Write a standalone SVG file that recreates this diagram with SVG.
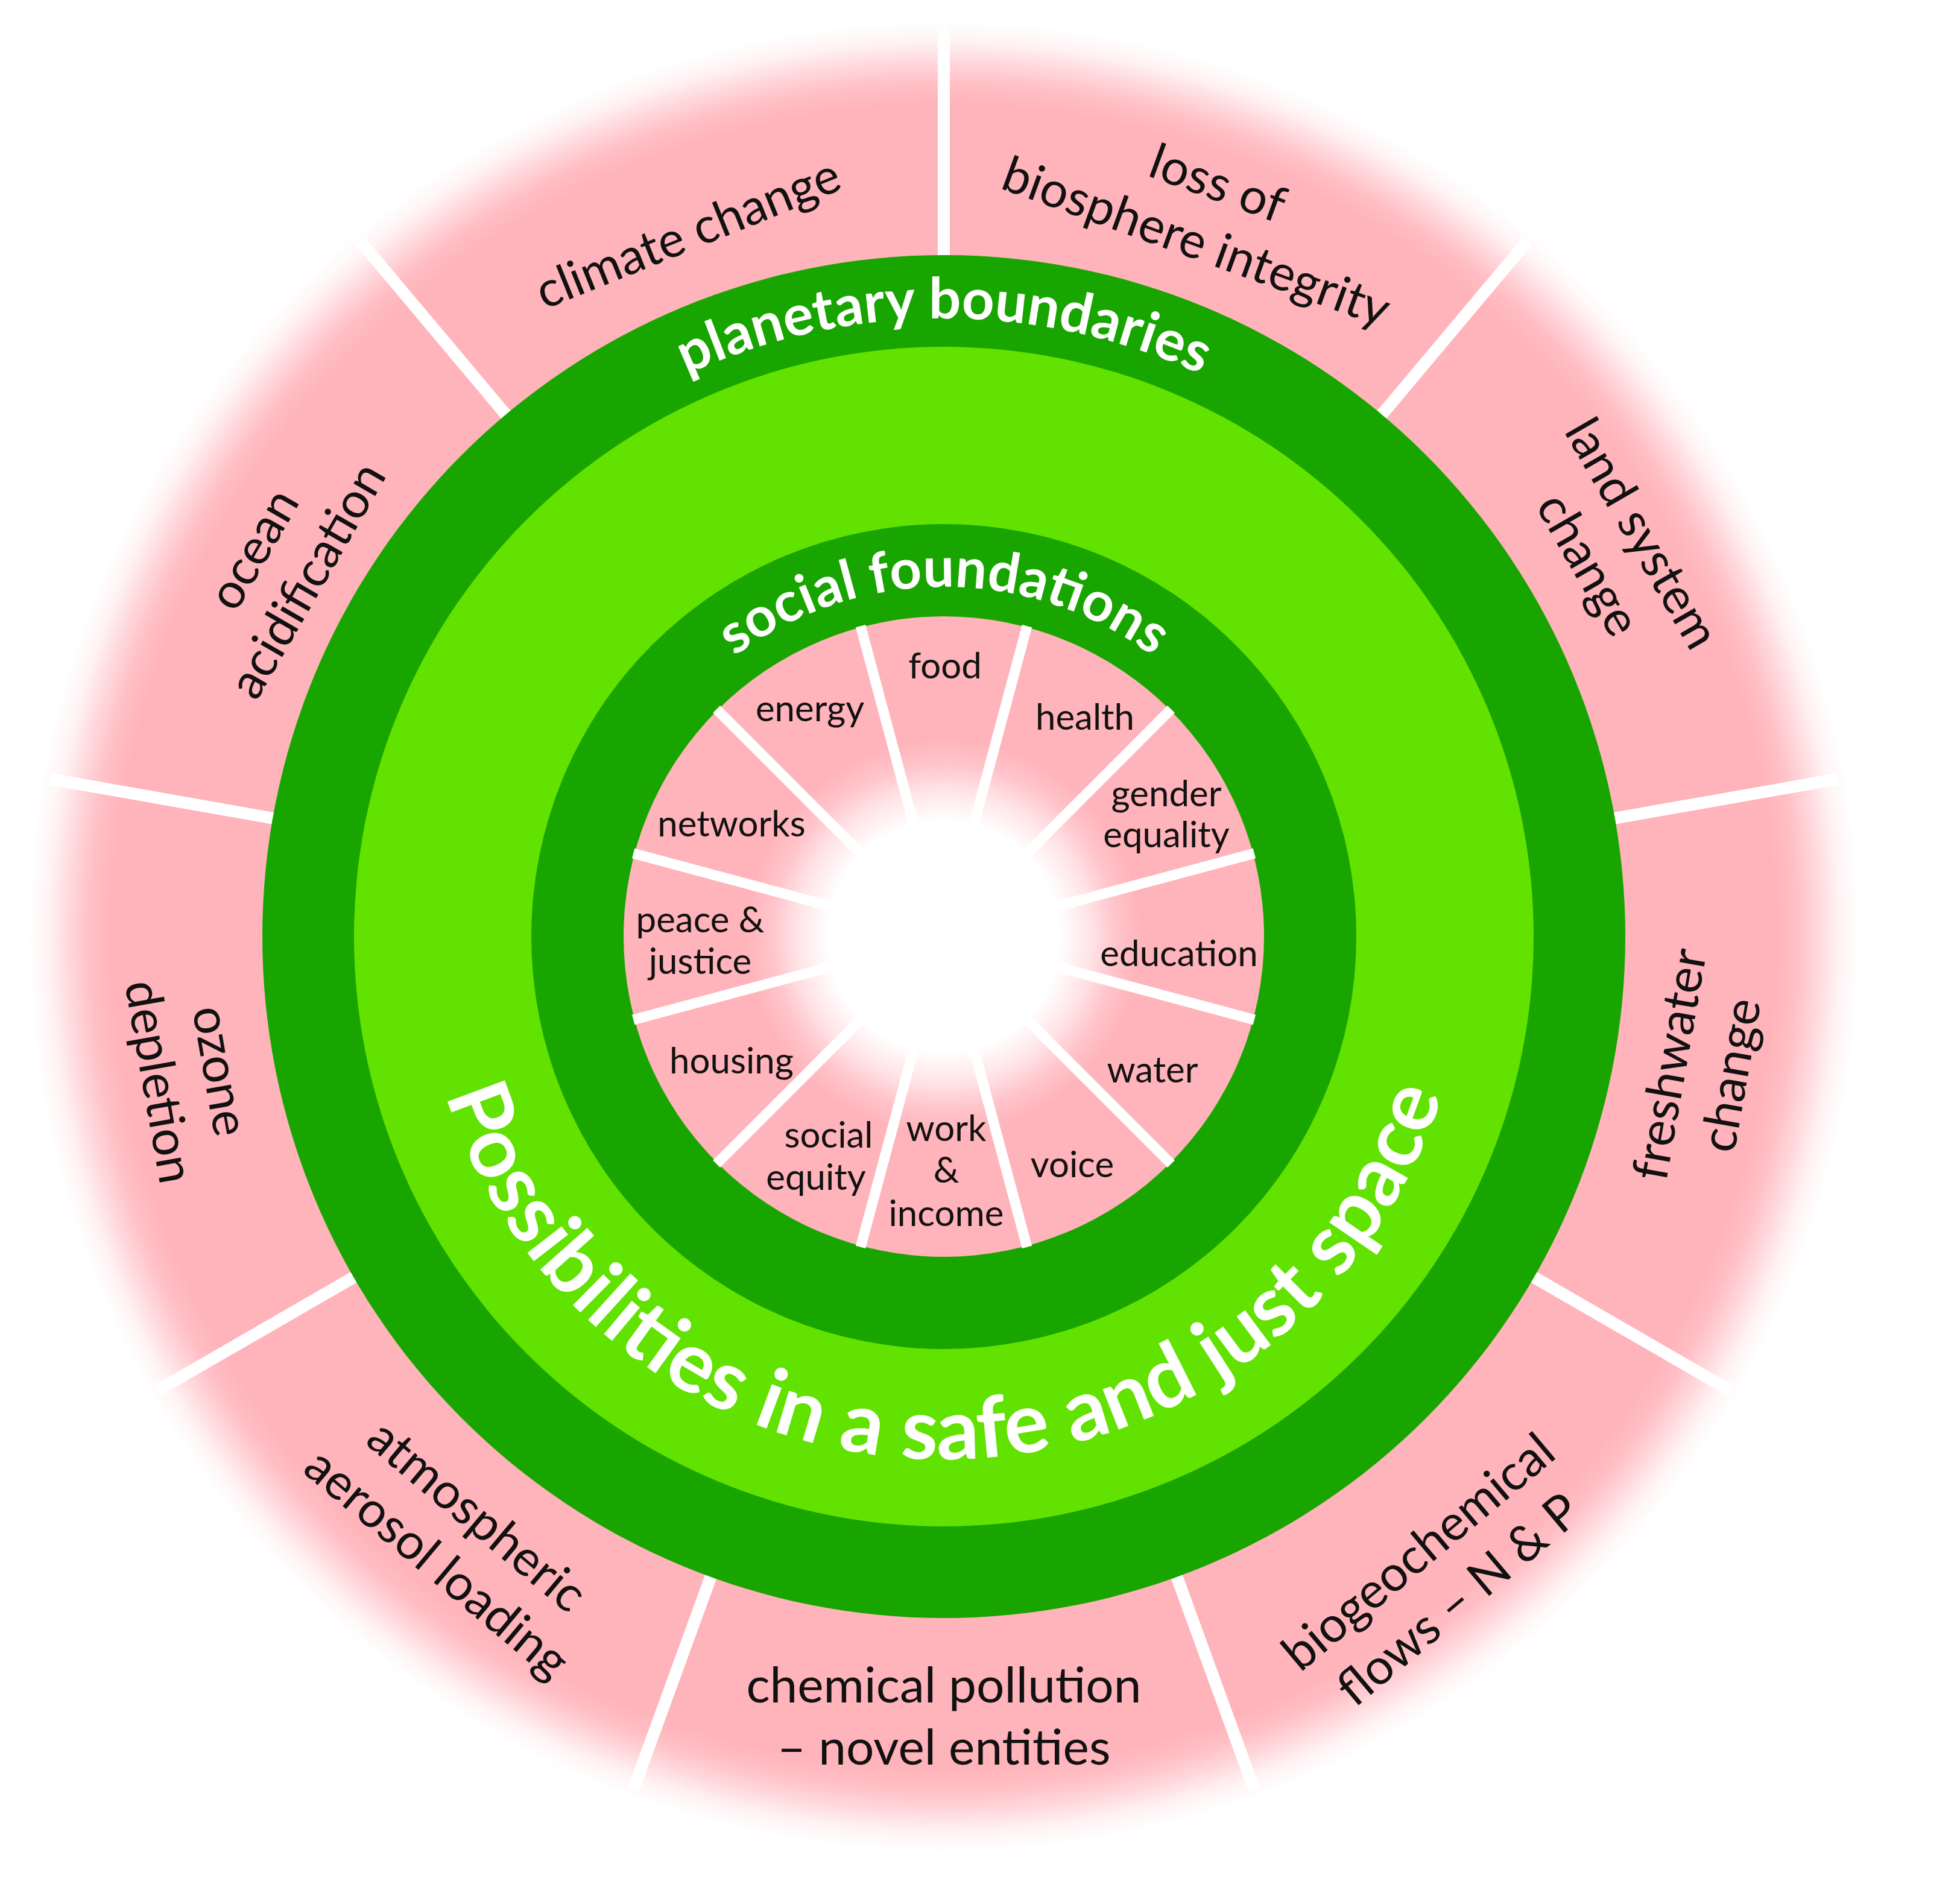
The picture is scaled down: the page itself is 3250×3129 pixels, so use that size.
<svg xmlns="http://www.w3.org/2000/svg" width="3250" height="3129" viewBox="0 0 3250 3129">
<defs>
<radialGradient id="outerFade" gradientUnits="userSpaceOnUse" cx="1565" cy="1553" r="1520">
<stop offset="0" stop-color="#FFB3BA"/>
<stop offset="0.905" stop-color="#FFB3BA"/>
<stop offset="0.93" stop-color="#FFB3BA" stop-opacity="0.85"/>
<stop offset="0.955" stop-color="#FFB3BA" stop-opacity="0.5"/>
<stop offset="0.978" stop-color="#FFB3BA" stop-opacity="0.15"/>
<stop offset="1" stop-color="#FFB3BA" stop-opacity="0"/>
</radialGradient>
<radialGradient id="innerFade" gradientUnits="userSpaceOnUse" cx="1565" cy="1553" r="531">
<stop offset="0" stop-color="#FFFFFF"/>
<stop offset="0.36" stop-color="#FFFFFF"/>
<stop offset="0.46" stop-color="#FFE3E6"/>
<stop offset="0.54" stop-color="#FFC4CA"/>
<stop offset="0.62" stop-color="#FFB3BA"/>
<stop offset="1" stop-color="#FFB3BA"/>
</radialGradient>
<path id="pbPath" d="M 677.3 1040.5 A 1025 1025 0 0 1 2452.7 1040.5"/>
<path id="sfPath" d="M 1020 1354.6 A 580 580 0 0 1 2110 1354.6"/>
<path id="psPath" d="M 698 1553 A 867 867 0 0 0 2432 1553"/>
<style>
.outer { font-family: Lato, "Open Sans", sans-serif; font-size: 82px; fill: #111111; text-anchor: middle; }
.inner { font-family: Lato, "Open Sans", sans-serif; font-size: 60px; fill: #111111; text-anchor: middle; }
.title { font-family: Lato, "Open Sans", sans-serif; font-weight: bold; fill: #FFFFFF; text-anchor: middle; }
.oline { stroke: #FFFFFF; stroke-width: 20; }
.iline { stroke: #FFFFFF; stroke-width: 17; }
</style>
</defs>
<rect x="0" y="0" width="3250" height="3129" fill="#FFFFFF"/>
<g id="outer-disk">
<circle cx="1565" cy="1553" r="1520" fill="url(#outerFade)"/>
</g>
<g id="connectors">
<g transform="translate(1565 1553)">
<line class="oline" x1="0" y1="-1120" x2="0" y2="-1506" transform="rotate(0)"/>
<line class="oline" x1="0" y1="-1120" x2="0" y2="-1506" transform="rotate(40)"/>
<line class="oline" x1="0" y1="-1120" x2="0" y2="-1506" transform="rotate(80)"/>
<line class="oline" x1="0" y1="-1120" x2="0" y2="-1506" transform="rotate(120)"/>
<line class="oline" x1="0" y1="-1120" x2="0" y2="-1506" transform="rotate(160)"/>
<line class="oline" x1="0" y1="-1120" x2="0" y2="-1506" transform="rotate(200)"/>
<line class="oline" x1="0" y1="-1120" x2="0" y2="-1506" transform="rotate(240)"/>
<line class="oline" x1="0" y1="-1120" x2="0" y2="-1506" transform="rotate(280)"/>
<line class="oline" x1="0" y1="-1120" x2="0" y2="-1506" transform="rotate(320)"/>
</g>
</g>
<g id="planetary-ring">
<circle cx="1565" cy="1553" r="1130" fill="#19A500"/>
<text class="title" font-size="94"><textPath href="#pbPath" startOffset="50%">planetary boundaries</textPath></text>
</g>
<g id="safe-space">
<circle cx="1565" cy="1553" r="978" fill="#62E200"/>
<text class="title" font-size="140"><textPath href="#psPath" startOffset="50%">Possibilities in a safe and just space</textPath></text>
</g>
<g id="social-ring">
<circle cx="1565" cy="1553" r="684" fill="#19A500"/>
<text class="title" font-size="92"><textPath href="#sfPath" startOffset="50%">social foundations</textPath></text>
</g>
<g id="social-core">
<circle cx="1565" cy="1553" r="531" fill="url(#innerFade)"/>
</g>
<g id="inner-connectors">
<g transform="translate(1565 1553)">
<line class="iline" x1="0" y1="-150" x2="0" y2="-533" transform="rotate(15)"/>
<line class="iline" x1="0" y1="-150" x2="0" y2="-533" transform="rotate(45)"/>
<line class="iline" x1="0" y1="-150" x2="0" y2="-533" transform="rotate(75)"/>
<line class="iline" x1="0" y1="-150" x2="0" y2="-533" transform="rotate(105)"/>
<line class="iline" x1="0" y1="-150" x2="0" y2="-533" transform="rotate(135)"/>
<line class="iline" x1="0" y1="-150" x2="0" y2="-533" transform="rotate(165)"/>
<line class="iline" x1="0" y1="-150" x2="0" y2="-533" transform="rotate(195)"/>
<line class="iline" x1="0" y1="-150" x2="0" y2="-533" transform="rotate(225)"/>
<line class="iline" x1="0" y1="-150" x2="0" y2="-533" transform="rotate(255)"/>
<line class="iline" x1="0" y1="-150" x2="0" y2="-533" transform="rotate(285)"/>
<line class="iline" x1="0" y1="-150" x2="0" y2="-533" transform="rotate(315)"/>
<line class="iline" x1="0" y1="-150" x2="0" y2="-533" transform="rotate(345)"/>
</g>
</g>
<g id="pb-climate"><text class="outer" transform="translate(1141 388) rotate(-22)"><tspan x="0" y="27">climate change</tspan></text></g>
<g id="pb-biosphere"><text class="outer" transform="translate(2001 354) rotate(20)"><tspan x="0" y="-25">loss of</tspan><tspan x="0" y="78">biosphere integrity</tspan></text></g>
<g id="pb-land"><text class="outer" transform="translate(2677 911) rotate(60)"><tspan x="0" y="-25">land system</tspan><tspan x="0" y="78">change</tspan></text></g>
<g id="pb-freshwater"><text class="outer" transform="translate(2821 1774) rotate(-80)"><tspan x="0" y="-25">freshwater</tspan><tspan x="0" y="78">change</tspan></text></g>
<g id="pb-biogeochemical"><text class="outer" transform="translate(2386 2614) rotate(-40)"><tspan x="0" y="-25">biogeochemical</tspan><tspan x="0" y="78">flows – N &amp; P</tspan></text></g>
<g id="pb-chemical"><text class="outer" transform="translate(1565 2848)"><tspan x="0" y="-25">chemical pollution</tspan><tspan x="0" y="78">– novel entities</tspan></text></g>
<g id="pb-aerosol"><text class="outer" transform="translate(757 2554) rotate(40)"><tspan x="0" y="-25">atmospheric</tspan><tspan x="0" y="78">aerosol loading</tspan></text></g>
<g id="pb-ozone"><text class="outer" transform="translate(313 1785) rotate(80)"><tspan x="0" y="-25">ozone</tspan><tspan x="0" y="78">depletion</tspan></text></g>
<g id="pb-ocean"><text class="outer" transform="translate(466 937) rotate(-60)"><tspan x="0" y="-25">ocean</tspan><tspan x="0" y="78">acidification</tspan></text></g>
<g id="sf-food"><text class="inner" x="1567" y="1125">food</text></g>
<g id="sf-health"><text class="inner" x="1799" y="1210">health</text></g>
<g id="sf-gender"><text class="inner"><tspan x="1934" y="1337">gender</tspan><tspan x="1934" y="1405">equality</tspan></text></g>
<g id="sf-education"><text class="inner" x="1955" y="1602">education</text></g>
<g id="sf-water"><text class="inner" x="1911" y="1795">water</text></g>
<g id="sf-voice"><text class="inner" x="1778" y="1952">voice</text></g>
<g id="sf-work"><text class="inner"><tspan x="1569" y="1892">work</tspan><tspan x="1569" y="1961">&amp;</tspan><tspan x="1569" y="2033">income</tspan></text></g>
<g id="sf-equity"><text class="inner"><tspan x="1374" y="1903">social</tspan><tspan x="1353" y="1973">equity</tspan></text></g>
<g id="sf-housing"><text class="inner" x="1213" y="1780">housing</text></g>
<g id="sf-peace"><text class="inner"><tspan x="1161" y="1546">peace &amp;</tspan><tspan x="1161" y="1615">justice</tspan></text></g>
<g id="sf-networks"><text class="inner" x="1213" y="1387">networks</text></g>
<g id="sf-energy"><text class="inner" x="1343" y="1196">energy</text></g>
</svg>
